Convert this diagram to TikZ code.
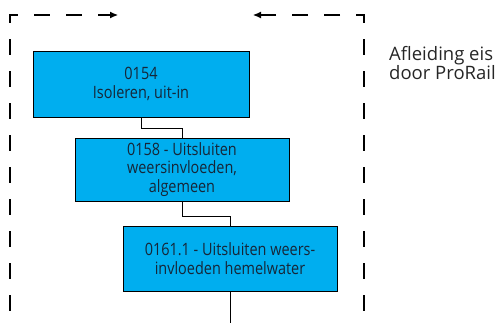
\documentclass[tikz,border=0pt]{standalone}
\usepackage{fontspec}
\setmainfont{Open Sans}
\newfontfamily\stapfont{Open Sans}[FakeStretch=0.85]
\usepackage{xcolor}
\usetikzlibrary{arrows.meta, positioning}
\definecolor{stapblauw}{RGB}{0,174,239}
\definecolor{staptekst}{RGB}{22,38,56}
\tikzset{
  stap/.style={draw=black, fill=stapblauw, line width=0.9pt, inner sep=0pt,
    align=center, text=staptekst, font=\stapfont\fontsize{17}{18.5}\selectfont},
  kader/.style={line width=1.1pt, dash pattern=on 16pt off 16pt, dash phase=20pt},
  verbind/.style={line width=0.9pt}
}

\begin{document}
\begin{tikzpicture}[x=1pt, y=-1pt]
  \def \xl{10}
  \def \xr{364}
  \def \yt{15}
  \useasboundingbox (0,0) rectangle (499,323);

  \node[stap, minimum width=216pt, minimum height=66pt] (s0154) at (141,84) {0154\\Isoleren, uit-in};
  \node[stap, minimum width=214pt, minimum height=63pt] (s0158) at (182,169.5) {0158 - Uitsluiten\\weersinvloeden,\\algemeen};
  \node[stap, minimum width=214pt, minimum height=65pt] (s0161) at (230,258.5) {0161.1 - Uitsluiten weers-\\invloeden hemelwater};
  \coordinate (eind) at (230,323);

  \draw[verbind] (s0154.south) -- ++(0,11) -| (s0158.north);
  \draw[verbind] (s0158.south) -- ++(0,15) -| (s0161.north);
  \draw[verbind] (s0161.south) -- (eind);

  \draw[kader, -{Latex[length=8pt, width=7pt]}] (\xl,323) -- (\xl,\yt) -- (118,\yt);
  \draw[kader, -{Latex[length=8pt, width=7pt]}] (\xr,323) -- (\xr,\yt) -- (253,\yt);

  \node[anchor=north west, align=left, inner sep=0pt, text=black!85,
    font=\fontsize{18.5}{18}\selectfont] (afleiding) at (389,46) {Afleiding eis\\door ProRail};
\end{tikzpicture}
\end{document}
